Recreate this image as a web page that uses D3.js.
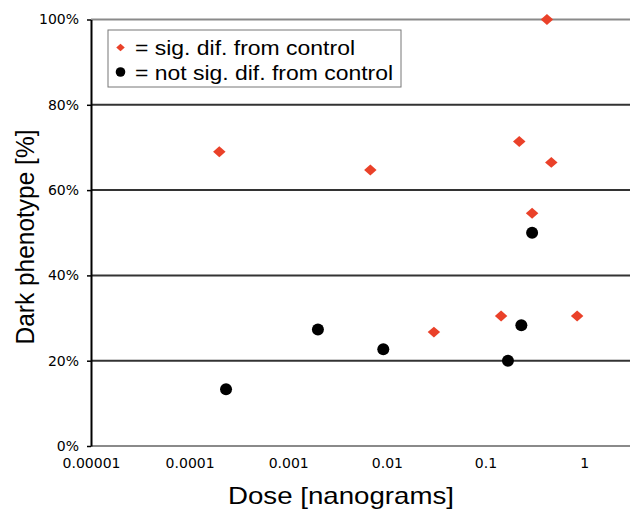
<!DOCTYPE html>
<html>
<head>
<meta charset="utf-8">
<script src="https://cdn.jsdelivr.net/npm/d3@7"></script>
<style>
  body { margin: 0; background: #fff; }
  svg { display: block; }
</style>
</head>
<body>
<div id="chart"></div>
<script>
// doses in nanograms, response in %
var sigDose = [0.0002, 0.0068, 0.030, 0.144, 0.85, 0.42, 0.22, 0.465, 0.297]
var sigPct  = [69, 64.7, 26.7, 30.5, 30.5, 100, 71.4, 66.5, 54.6]
var notDose = [0.000234, 0.002, 0.0092, 0.169, 0.231, 0.297]
var notPct  = [13.3, 27.3, 22.7, 20, 28.3, 50]
var xTicks = [0.00001, 0.0001, 0.001, 0.01, 0.1, 1]
var xTickLabels = ['0.00001', '0.0001', '0.001', '0.01', '0.1', '1']
var yTicks = [0, 20, 40, 60, 80, 100]
var legendLabels = ['= sig. dif. from control', '= not sig. dif. from control']

var W = 630, H = 510
var margin = {top: 19.5, right: 0, bottom: 64, left: 91}
var width = W - margin.left - margin.right,
  height = H - margin.top - margin.bottom

var svg = d3.select('#chart').append('svg')
  .attr('width', W)
  .attr('height', H)

var g = svg.append('g')
  .attr('transform', 'translate(' + margin.left + ',' + margin.top + ')')

var x = d3.scaleLog().domain([0.00001, 2.92]).range([0, width])
var y = d3.scaleLinear().domain([0, 100]).range([height, 0])

// horizontal grid lines
g.selectAll('line.grid')
  .data(yTicks)
  .enter().append('line')
    .attr('class', 'grid')
    .attr('x1', 0)
    .attr('x2', width)
    .attr('y1', d => y(d))
    .attr('y2', d => y(d))
    .attr('stroke', d => (d == 0 || d == 100) ? '#8a8a8a' : '#333')
    .attr('stroke-width', 2)

// y axis
var yAxis = g.append('g')
  .call(d3.axisLeft(y).tickValues(yTicks).tickFormat(d => d + '%').tickSize(4).tickSizeOuter(0))
yAxis.select('.domain').attr('stroke', '#000').attr('stroke-width', 2)
yAxis.selectAll('.tick line').attr('stroke', '#000').attr('stroke-width', 1.5)
yAxis.selectAll('.tick text')
  .attr('x', -12)
  .style('font-family', 'DejaVu Sans, Verdana, sans-serif')
  .style('font-size', '14px')
  .attr('fill', '#000')

// x axis labels only
var xAxis = g.append('g')
  .attr('transform', 'translate(0,' + height + ')')
  .call(d3.axisBottom(x).tickValues(xTicks).tickFormat((d, i) => xTickLabels[i]).tickSize(0))
xAxis.select('.domain').remove()
xAxis.selectAll('.tick text')
  .attr('y', 12)
  .style('font-family', 'DejaVu Sans, Verdana, sans-serif')
  .style('font-size', '14px')
  .attr('fill', '#000')

// points
var diamond = d3.symbol().type(d3.symbolSquare).size(78)
g.selectAll('path.sig')
  .data(sigDose)
  .enter().append('path')
    .attr('class', 'sig')
    .attr('d', diamond)
    .attr('transform', (d, i) => 'translate(' + x(d) + ',' + y(sigPct[i]) + ') scale(1,0.88) rotate(45)')
    .attr('fill', '#ea4129')

g.selectAll('circle.not')
  .data(notDose)
  .enter().append('circle')
    .attr('class', 'not')
    .attr('cx', d => x(d))
    .attr('cy', (d, i) => y(notPct[i]))
    .attr('r', 6)
    .attr('fill', '#000')

// legend
var legend = svg.append('g').attr('transform', 'translate(108,30)')
legend.append('rect')
  .attr('width', 293)
  .attr('height', 57)
  .attr('fill', '#fff')
  .attr('stroke', '#777')
  .attr('stroke-width', 1)
legend.append('path')
  .attr('d', d3.symbol().type(d3.symbolSquare).size(36))
  .attr('transform', 'translate(12.5,17.5) scale(1,0.88) rotate(45)')
  .attr('fill', '#ea4129')
legend.append('circle')
  .attr('cx', 12.5)
  .attr('cy', 42)
  .attr('r', 4.8)
  .attr('fill', '#000')
legend.selectAll('text')
  .data(legendLabels)
  .enter().append('text')
    .attr('x', 27)
    .attr('y', (d, i) => 24.5 + i * 25)
    .attr('font-family', 'Liberation Sans, Arial, sans-serif')
    .attr('font-size', 20)
    .attr('textLength', (d, i) => i == 0 ? 220 : 258)
    .attr('lengthAdjust', 'spacingAndGlyphs')
    .text(d => d)

// axis titles
svg.append('text')
  .attr('x', 341)
  .attr('y', 504)
  .attr('text-anchor', 'middle')
  .attr('font-family', 'Liberation Sans, Arial, sans-serif')
  .attr('font-size', 24)
  .attr('textLength', 226)
  .attr('lengthAdjust', 'spacingAndGlyphs')
  .text('Dose [nanograms]')

svg.append('text')
  .attr('transform', 'translate(34,237) rotate(-90)')
  .attr('text-anchor', 'middle')
  .attr('font-family', 'Liberation Sans, Arial, sans-serif')
  .attr('font-size', 26)
  .attr('textLength', 215)
  .attr('lengthAdjust', 'spacingAndGlyphs')
  .text('Dark phenotype [%]')
</script>
</body>
</html>
